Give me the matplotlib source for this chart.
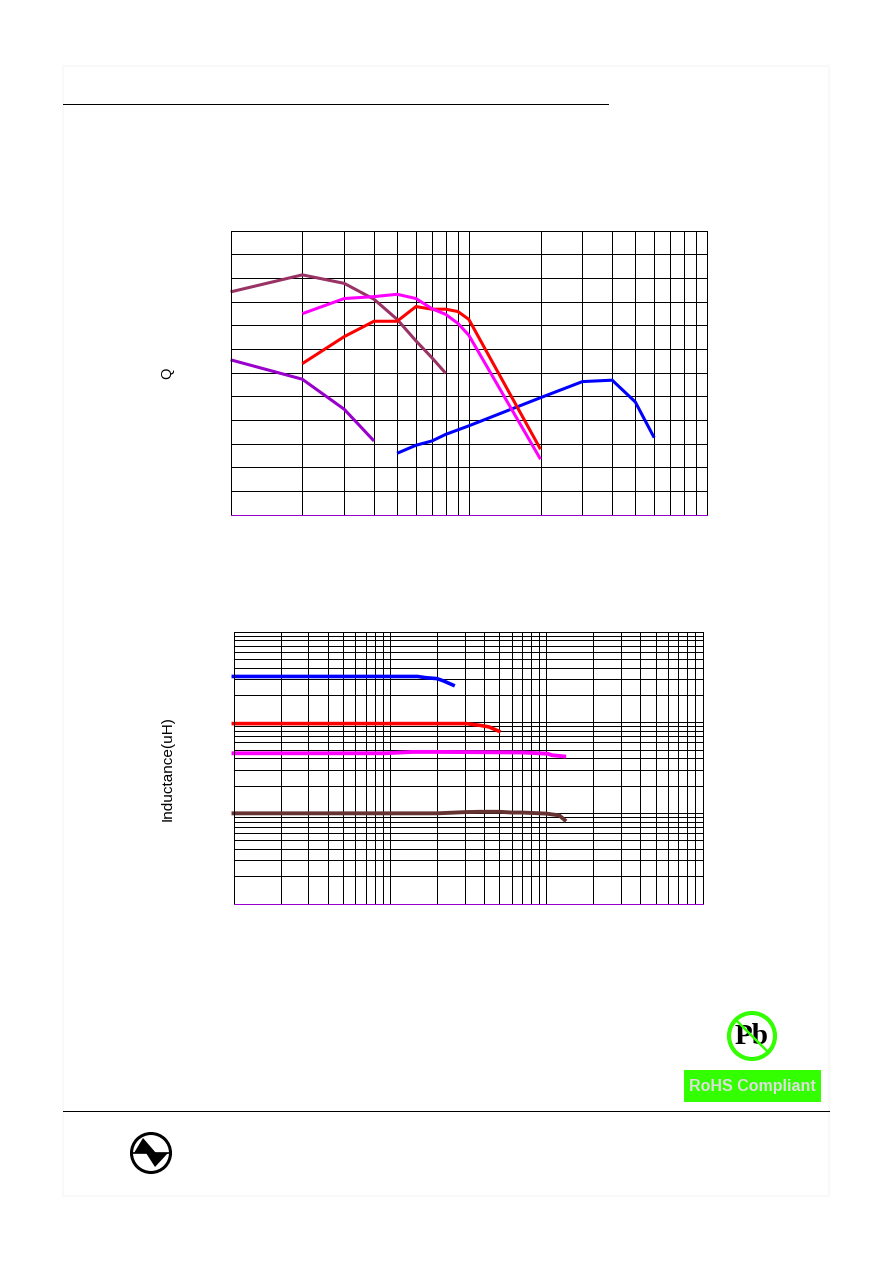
"""
Q and inductance vs frequency curves from an inductor data sheet page
"""
import matplotlib
matplotlib.use('Agg')
import matplotlib.pyplot as plt
from matplotlib.patches import Circle, Polygon, Rectangle

W, H = 892, 1263
FRAME = '#f9f9f9'
BLUE, RED, MAGENTA = '#0000ff', '#ff0000', '#ff00ff'
MAROON, PURPLE, BROWN = '#993366', '#9900cc', '#663333'
GREEN = '#33ff00'
HAIR = 0.72  # one pixel at dpi 100

# Q chart (x on log scale, Q in arbitrary grid units)
q_x_maroon = [1, 2, 3, 4, 5, 6, 7, 8]
q_maroon = [94.1, 101.3, 97.7, 91.0, 82.5, 73.4, 66.3, 59.7]
q_x_magenta = [2, 3, 4, 5, 6, 7, 8, 9, 10, 20]
q_magenta = [84.9, 91.3, 92.1, 93.1, 91.3, 87.0, 84.6, 80.8, 75.8, 23.4]
q_x_red = [2, 3, 4, 5, 6, 7, 8, 9, 10, 20]
q_red = [63.8, 75.2, 81.7, 81.7, 87.9, 86.8, 86.8, 85.8, 82.5, 27.6]
q_x_purple = [1, 2, 3, 4]
q_purple = [65.4, 57.2, 44.5, 31.1]
q_x_blue = [5, 6, 7, 8, 9, 10, 20, 30, 40, 50, 60]
q_blue = [25.9, 29.3, 31.1, 33.9, 35.8, 37.5, 49.4, 56.2, 56.8, 47.6, 32.5]

# Inductance chart
l_x_blue = [0.97, 15, 17, 20, 22, 26]
l_blue = [320, 320, 310, 303, 286, 252]
l_x_red = [0.97, 30.6, 37.3, 43, 51]
l_red = [96.7, 96.7, 92.7, 88.9, 78.2]
l_x_magenta = [0.97, 9.4, 14, 20, 70, 102, 109, 134]
l_magenta = [45.5, 45.5, 47.1, 47.1, 46.4, 45.0, 43.3, 41.8]
l_x_brown = [0.97, 20, 30, 38, 50, 60, 70, 100, 121, 134]
l_brown = [9.9, 9.9, 10.2, 10.3, 10.3, 10.1, 10.1, 9.83, 9.4, 8.1]


def log_grid(decades):
    ticks = [m * 10**d for d in decades for m in range(1, 10)]
    ticks.append(10 ** (decades[-1] + 1))
    return ticks


def setup(ax, xticks, yticks):
    ax.set_xticks(xticks)
    ax.set_yticks(yticks)
    ax.minorticks_off()
    ax.tick_params(length=0, labelbottom=False, labelleft=False)
    ax.grid(True, color='black', lw=HAIR)
    ax.set_axisbelow(True)
    for s in ax.spines.values():
        s.set_linewidth(HAIR)
    ax.spines['bottom'].set_color(PURPLE)


def curve(ax, x, y, color, lw=2.2):
    ax.plot(x, y, color=color, lw=lw, clip_on=False,
            solid_capstyle='butt', solid_joinstyle='miter')


fig = plt.figure(figsize=(W / 100, H / 100), dpi=100, facecolor='white')

# page layer in pixel coords, for the sheet furniture
page = fig.add_axes([0, 0, 1, 1])
page.set_xlim(0, W)
page.set_ylim(H, 0)
page.axis('off')
page.add_patch(Rectangle((63, 66), 766, 1130, fc='white', ec=FRAME, lw=1.5))
page.plot([63, 608], [104, 104], color='black', lw=HAIR)
page.plot([63, 829], [1111, 1111], color='black', lw=HAIR)
page.text(167, 373, 'Q', rotation=90, ha='center', va='center',
          family='Liberation Sans', fontsize=10.5)
page.text(168, 768.5, 'Inductance(uH)', rotation=90, ha='center', va='center',
          family='Liberation Sans', fontsize=11)

# Pb free mark
page.text(752, 1037, 'Pb', ha='center', va='center', family='Liberation Serif',
          fontsize=21, fontweight='bold', color='black', zorder=3)
page.add_patch(Circle((752, 1036), 23, fc='none', ec=GREEN, lw=3, zorder=4))
page.plot([736, 768], [1020, 1052], color=GREEN, lw=1.8, zorder=4)
page.add_patch(Rectangle((684, 1070), 137, 32, fc=GREEN, ec='none'))
page.text(752.5, 1086, 'RoHS Compliant', ha='center', va='center', color='#dddddd',
          family='Liberation Sans', fontsize=11.5, fontweight='bold')

# company logo
page.add_patch(Circle((151, 1153), 19.5, fc='white', ec='black', lw=2.2))
page.plot([132, 170], [1153, 1153], color='black', lw=1.2)
page.add_patch(Polygon([(134, 1153), (143, 1138), (156, 1153)], fc='black', ec='none'))
page.add_patch(Polygon([(146, 1153), (155, 1167), (168, 1153)], fc='black', ec='none'))

# Q vs frequency
ax1 = fig.add_axes([230.6 / W, 1 - 514.6 / H, 476.4 / W, 284 / H])
ax1.set_xscale('log')
ax1.set_xlim(1, 100)
ax1.set_ylim(0, 120)
setup(ax1, log_grid([0, 1]), list(range(0, 121, 10)))
curve(ax1, q_x_maroon, q_maroon, MAROON)
curve(ax1, q_x_purple, q_purple, PURPLE)
curve(ax1, q_x_blue, q_blue, BLUE)
curve(ax1, q_x_red, q_red, RED)
curve(ax1, q_x_magenta, q_magenta, MAGENTA)

# inductance vs frequency
ax2 = fig.add_axes([233.6 / W, 1 - 903.6 / H, 469 / W, 272 / H])
ax2.set_xscale('log')
ax2.set_yscale('log')
ax2.set_xlim(1, 1000)
ax2.set_ylim(1, 1000)
setup(ax2, log_grid([0, 1, 2]), log_grid([0, 1, 2]))
curve(ax2, l_x_blue, l_blue, BLUE, lw=2.6)
curve(ax2, l_x_red, l_red, RED, lw=2.6)
curve(ax2, l_x_magenta, l_magenta, MAGENTA, lw=2.8)
curve(ax2, l_x_brown, l_brown, BROWN, lw=2.8)

fig.savefig('out.png', dpi=100)
